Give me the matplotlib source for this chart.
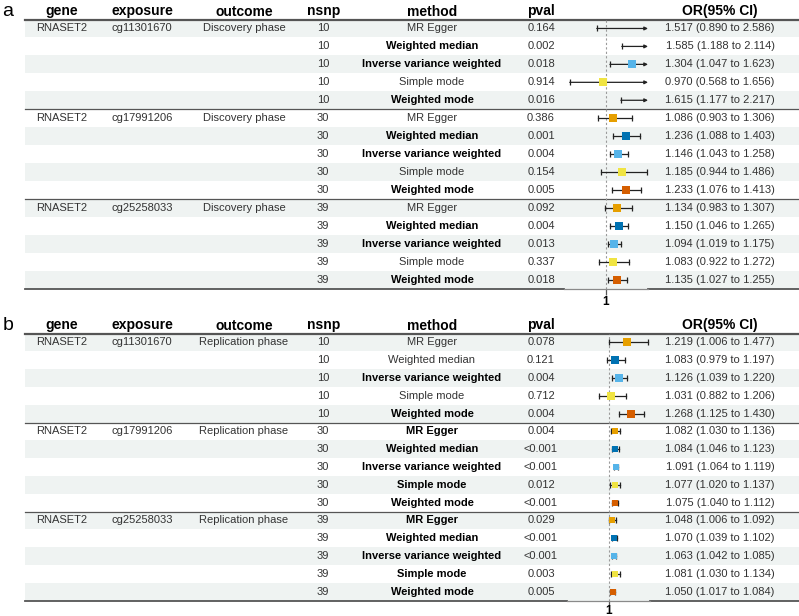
import matplotlib
matplotlib.use("Agg")
import matplotlib.pyplot as plt
from matplotlib.patches import Rectangle

plt.rcParams['font.family'] = ['Liberation Sans', 'DejaVu Sans']

# data
gene = "RNASET2"
exposures = ["cg11301670", "cg17991206", "cg25258033"]
nsnp = [10, 30, 39]
methods = ["MR Egger", "Weighted median", "Inverse variance weighted",
           "Simple mode", "Weighted mode"]
headers = ["gene", "exposure", "outcome", "nsnp", "method", "pval", "", "OR(95% CI)"]

outcome_a = "Discovery phase"
pval_a = ["0.164", "0.002", "0.018", "0.914", "0.016",
          "0.386", "0.001", "0.004", "0.154", "0.005",
          "0.092", "0.004", "0.013", "0.337", "0.018"]
or_a = [1.517, 1.585, 1.304, 0.970, 1.615,
        1.086, 1.236, 1.146, 1.185, 1.233,
        1.134, 1.150, 1.094, 1.083, 1.135]
lo_a = [0.890, 1.188, 1.047, 0.568, 1.177,
        0.903, 1.088, 1.043, 0.944, 1.076,
        0.983, 1.046, 1.019, 0.922, 1.027]
hi_a = [2.586, 2.114, 1.623, 1.656, 2.217,
        1.306, 1.403, 1.258, 1.486, 1.413,
        1.307, 1.265, 1.175, 1.272, 1.255]

outcome_b = "Replication phase"
pval_b = ["0.078", "0.121", "0.004", "0.712", "0.004",
          "0.004", "<0.001", "<0.001", "0.012", "<0.001",
          "0.029", "<0.001", "<0.001", "0.003", "0.005"]
or_b = [1.219, 1.083, 1.126, 1.031, 1.268,
        1.082, 1.084, 1.091, 1.077, 1.075,
        1.048, 1.070, 1.063, 1.081, 1.050]
lo_b = [1.006, 0.979, 1.039, 0.882, 1.125,
        1.030, 1.046, 1.064, 1.020, 1.040,
        1.006, 1.039, 1.042, 1.030, 1.017]
hi_b = [1.477, 1.197, 1.220, 1.206, 1.430,
        1.136, 1.123, 1.119, 1.137, 1.112,
        1.092, 1.102, 1.085, 1.134, 1.084]

method_colors = ["#E69F00", "#0072B2", "#56B4E9", "#F0E442", "#D55E00"]

W, H = 799, 616
col_x = [62, 142, 244, 323, 432, 541, None, 720]
txt = "#333333"
line_c = "#555555"
shade = "#eff3f2"


def pfloat(s):
    return float(s.replace("<", ""))


def draw_panel(fig, tab, label, outcome, pvals, ors, los, his, lay):
    top, rh, hy = lay["top"], lay["rh"], lay["header_y"]
    n = len(ors)
    bottom = top + n * rh
    tab.text(8, hy, label, fontsize=14, ha="center", va="center")
    for j, h in enumerate(headers):
        if h:
            x = col_x[j] + (1 if j == 3 else 0)
            tab.text(x, hy, h, fontsize=10, fontweight="bold", ha="center",
                     va="center", color="black")
    for i in range(n):
        y = top + (i + 0.5) * rh
        if i % 2 == 0:
            tab.add_patch(Rectangle((25, top + i * rh), W - 25, rh,
                                    color=shade, lw=0, zorder=0))
        g, k = divmod(i, 5)
        sig = pfloat(pvals[i]) < 0.05
        if k == 0:
            tab.text(col_x[0], y, gene, fontsize=8, ha="center", va="center", color=txt)
            tab.text(col_x[1], y, exposures[g], fontsize=8, ha="center", va="center", color=txt)
            tab.text(col_x[2], y, outcome, fontsize=8, ha="center", va="center", color=txt)
        tab.text(col_x[3], y, str(nsnp[g]), fontsize=8, ha="center", va="center", color=txt)
        tab.text(col_x[4], y, methods[k], fontsize=8, ha="center", va="center",
                 color="black" if sig else txt, fontweight="bold" if sig else "normal")
        tab.text(col_x[5], y, pvals[i], fontsize=8, ha="center", va="center", color=txt)
        tab.text(col_x[7], y, "%.3f (%.3f to %.3f)" % (ors[i], los[i], his[i]),
                 fontsize=8, ha="center", va="center", color=txt)
    # lines
    tab.plot([25, W], [top, top], color=line_c, lw=1.6, zorder=3)
    for g in (1, 2):
        yy = top + g * 5 * rh
        tab.plot([25, W], [yy, yy], color=line_c, lw=0.9, zorder=3)
    tab.plot([25, lay["fx0"]], [bottom, bottom], color=line_c, lw=1.3, zorder=3)
    tab.plot([lay["fx1"], W], [bottom, bottom], color=line_c, lw=1.3, zorder=3)

    # forest axes
    ax = fig.add_axes([lay["fx0"] / W, 1 - bottom / H,
                       (lay["fx1"] - lay["fx0"]) / W, n * rh / H])
    ax.patch.set_visible(False)
    xmin, xmax = 0.5, 1.5
    ax.set_xlim(xmin, xmax)
    ax.set_ylim(n, 0)
    for s in ("top", "left", "right"):
        ax.spines[s].set_visible(False)
    ax.spines["bottom"].set_color("#8a8a8a")
    ax.spines["bottom"].set_linewidth(0.9)
    ax.set_yticks([])
    ax.set_xticks([1])
    ax.set_xticklabels(["1"], fontsize=8.5, fontweight="bold")
    ax.tick_params(axis="x", length=lay["tick_len"], width=0.9, color="#555555",
                   pad=lay["pad"])
    ax.axvline(1, color="#9a9a9a", ls=(0, (2, 2)), lw=0.8, zorder=1)
    for i in range(n):
        y = i + 0.5
        c = method_colors[i % 5]
        l, h = max(los[i], xmin), min(his[i], xmax)
        if his[i] > xmax:
            ax.annotate("", xy=(xmax, y), xytext=(l, y),
                        arrowprops=dict(arrowstyle="-|>", lw=0.9, color="#222222",
                                        mutation_scale=5, shrinkA=0, shrinkB=0))
        else:
            ax.plot([l, h], [y, y], color="#222222", lw=0.9, zorder=2)
            ax.plot([h], [y], marker="|", ms=4, mew=0.9, color="#222222", zorder=2)
        if los[i] >= xmin:
            ax.plot([l], [y], marker="|", ms=4, mew=0.9, color="#222222", zorder=2)
        if xmin <= ors[i] <= xmax:
            ms = lay["ms"][i // 5]
            ax.plot([ors[i]], [y], marker="s", ms=ms, color=c, mec=c, mew=0, zorder=3)
    return ax


fig = plt.figure(figsize=(W / 100, H / 100), dpi=100)
tab = fig.add_axes([0, 0, 1, 1])
tab.set_xlim(0, W)
tab.set_ylim(H, 0)
tab.axis("off")

lay_a = dict(top=19.5, rh=17.95, header_y=11.5, fx0=564, fx1=648,
             ms=[6, 6, 5.5], tick_len=4, pad=1.5)
lay_b = dict(top=333.5, rh=17.8, header_y=325.5, fx0=567, fx1=650,
             ms=[5.5, 4.8, 4.8], tick_len=3, pad=0.5)

draw_panel(fig, tab, "a", outcome_a, pval_a, or_a, lo_a, hi_a, lay_a)
draw_panel(fig, tab, "b", outcome_b, pval_b, or_b, lo_b, hi_b, lay_b)

fig.savefig("out.png", dpi=100)
